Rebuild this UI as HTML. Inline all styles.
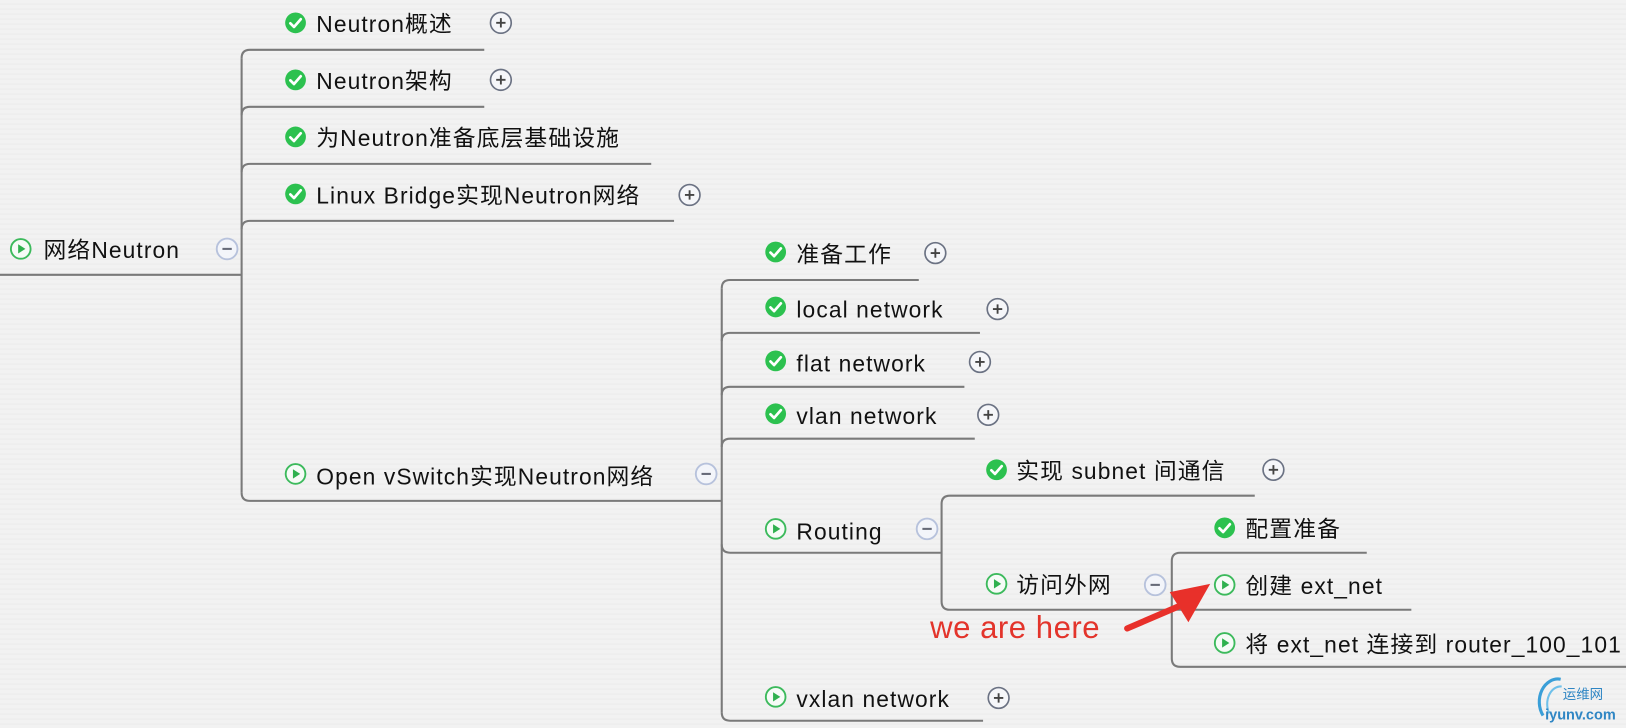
<!DOCTYPE html>
<html><head><meta charset="utf-8"><style>
html,body{margin:0;padding:0;width:1626px;height:728px;overflow:hidden;background:#f1f1f1;}
body{background:repeating-linear-gradient(180deg,#f2f2f2 0px,#f2f2f2 3px,#ebebeb 4px,#f2f2f2 5px);}
svg text{font-family:"Liberation Sans","Noto Sans CJK SC",sans-serif;font-size:22px;fill:#111;letter-spacing:1.05px;}
</style></head><body>
<svg width="1626" height="728" viewBox="0 0 1568 702" xmlns="http://www.w3.org/2000/svg">
<defs>
<g id="chk"><circle r="10" fill="#2cc14f"/><path d="M-5,0.5 L-1.5,4 L5,-3.5" stroke="#fff" stroke-width="2.6" fill="none" stroke-linecap="round" stroke-linejoin="round"/></g>
<g id="play"><circle r="9.5" fill="#f6fbf7" stroke="#3cba5c" stroke-width="1.8"/><path d="M-2.5,-4.5 L4.5,0 L-2.5,4.5Z" fill="#2fb14f"/></g>
<g id="plus"><circle r="10" fill="#f5f6f9" stroke="#6b7283" stroke-width="1.6"/><path d="M-4.5,0H4.5M0,-4.5V4.5" stroke="#444" stroke-width="1.8"/></g>
<g id="minus"><circle r="10" fill="#f3f5fa" stroke="#b7c2dc" stroke-width="1.8"/><path d="M-4.5,0H4.5" stroke="#666a78" stroke-width="2"/></g>
</defs>
<g stroke="#7a7a7a" stroke-width="2" fill="none">
<path d="M0,265H233"/>
<path d="M233,56V475"/>
<path d="M233,56Q233,48 241,48H467"/>
<path d="M233,111Q233,103 241,103H467"/>
<path d="M233,166Q233,158 241,158H628"/>
<path d="M233,221Q233,213 241,213H650"/>
<path d="M233,475Q233,483 241,483H696"/>
<path d="M696,278V687"/>
<path d="M696,278Q696,270 704,270H886"/>
<path d="M696,329Q696,321 704,321H945"/>
<path d="M696,381Q696,373 704,373H930"/>
<path d="M696,431Q696,423 704,423H940"/>
<path d="M696,525Q696,533 704,533H908"/>
<path d="M696,687Q696,695 704,695H948"/>
<path d="M908,486V580"/>
<path d="M908,486Q908,478 916,478H1210"/>
<path d="M908,580Q908,588 916,588H1130"/>
<path d="M1130,541V635"/>
<path d="M1130,541Q1130,533 1138,533H1318"/>
<path d="M1130,588H1361"/>
<path d="M1130,635Q1130,643 1138,643H1568"/>
</g>
<use href="#play" x="20" y="240"/><text x="42" y="249">网络Neutron</text><use href="#minus" x="219" y="240"/>
<use href="#chk" x="285" y="22"/><text x="305" y="31">Neutron概述</text><use href="#plus" x="483" y="22"/>
<use href="#chk" x="285" y="77"/><text x="305" y="86">Neutron架构</text><use href="#plus" x="483" y="77"/>
<use href="#chk" x="285" y="132"/><text x="305" y="141">为Neutron准备底层基础设施</text>
<use href="#chk" x="285" y="187"/><text x="305" y="196">Linux Bridge实现Neutron网络</text><use href="#plus" x="665" y="188"/>
<use href="#play" x="285" y="457"/><text x="305" y="467">Open vSwitch实现Neutron网络</text><use href="#minus" x="681" y="457"/>
<use href="#chk" x="748" y="243"/><text x="768" y="253">准备工作</text><use href="#plus" x="902" y="244"/>
<use href="#chk" x="748" y="296"/><text x="768" y="306">local network</text><use href="#plus" x="962" y="298"/>
<use href="#chk" x="748" y="348"/><text x="768" y="358">flat network</text><use href="#plus" x="945" y="349"/>
<use href="#chk" x="748" y="399"/><text x="768" y="409">vlan network</text><use href="#plus" x="953" y="400"/>
<use href="#play" x="748" y="510"/><text x="768" y="520">Routing</text><use href="#minus" x="894" y="510"/>
<use href="#play" x="748" y="672"/><text x="768" y="682">vxlan network</text><use href="#plus" x="963" y="673"/>
<use href="#chk" x="961" y="453"/><text x="980" y="462">实现 subnet 间通信</text><use href="#plus" x="1228" y="453"/>
<use href="#play" x="961" y="563"/><text x="980" y="572">访问外网</text><use href="#minus" x="1114" y="564"/>
<use href="#chk" x="1181" y="509"/><text x="1201" y="518">配置准备</text>
<use href="#play" x="1181" y="564"/><text x="1201" y="573">创建 ext_net</text>
<use href="#play" x="1181" y="620"/><text x="1201" y="629">将 ext_net 连接到 router_100_101</text>
<text x="897" y="615" style="fill:#e3342b;font-size:30px;letter-spacing:0.5px">we are here</text>
<path d="M1087,606 L1136,585" stroke="#e8302a" stroke-width="6" stroke-linecap="round"/>
<path d="M1167,563 L1128,571 L1146,600Z" fill="#e8302a"/>
<path d="M1488,690 A18,22 0 0 1 1505,655" stroke="#3a9fd8" stroke-width="3" fill="none"/>
<path d="M1494,688 A13,17 0 0 1 1506,662" stroke="#6ec0ea" stroke-width="2" fill="none"/>
<text x="1507" y="674" style="font-size:13px;fill:#2f86c4;letter-spacing:0">运维网</text>
<text x="1490" y="694" style="font-size:14px;font-weight:bold;fill:#2f86c4;letter-spacing:0">iyunv.com</text>
</svg>
</body></html>
